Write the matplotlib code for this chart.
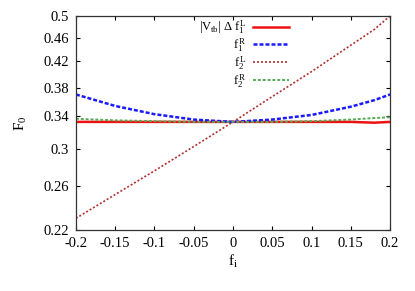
import matplotlib
matplotlib.use('Agg')
import matplotlib.pyplot as plt
from matplotlib.ticker import FixedLocator, NullLocator, FixedFormatter

plt.rcParams.update({
    'font.family': 'serif',
    'font.serif': ['Liberation Serif', 'DejaVu Serif'],
    'mathtext.fontset': 'custom',
    'mathtext.rm': 'Liberation Serif',
    'mathtext.it': 'Liberation Serif',
    'mathtext.bf': 'Liberation Serif',
    'font.size': 10.5,
    'xtick.direction': 'in',
    'ytick.direction': 'in',
    'xtick.major.size': 3,
    'ytick.major.size': 3,
})

# values
f_i = [-0.2, -0.15, -0.1, -0.05, 0.0, 0.05, 0.1, 0.15, 0.18, 0.2]
vtb_f1L = [0.333, 0.333, 0.333, 0.333, 0.333, 0.333, 0.333, 0.333, 0.332, 0.333]
f1R = [0.370, 0.354, 0.343, 0.336, 0.333, 0.336, 0.342, 0.353, 0.362, 0.370]
f2L = [0.230, 0.252, 0.276, 0.303, 0.333, 0.367, 0.404, 0.447, 0.475, 0.500]
f2R = [0.337, 0.335, 0.334, 0.333, 0.333, 0.333, 0.334, 0.336, 0.338, 0.339]

labels = [r'$|V_{tb}|\ \Delta\ f_1^L$', r'$f_1^R$', r'$f_2^L$', r'$f_2^R$']
yticks = [0.22, 0.26, 0.3, 0.34, 0.38, 0.42, 0.46, 0.5]
xticks = [-0.2, -0.15, -0.1, -0.05, 0, 0.05, 0.1, 0.15, 0.2]

fig = plt.figure(figsize=(4.15, 2.91), dpi=100)
ax = fig.add_axes([0.183, 0.21, 0.757, 0.735])

ax.plot(f_i, vtb_f1L, color='#ee1111', lw=1.8, ls='-', label=labels[0])
ax.plot(f_i, f1R, color='#1a1aff', lw=1.8, ls=(0, (1.6, 0.8)), label=labels[1])
ax.plot(f_i, f2L, color='#b03030', lw=1.2, ls=(0, (1.2, 1.2)), label=labels[2])
ax.plot(f_i, f2R, color='#55aa55', lw=1.4, ls=(0, (1.5, 1)), label=labels[3])

ax.set_yscale('log')
ax.set_xlim(-0.2, 0.2)
ax.set_ylim(0.22, 0.5)
ax.yaxis.set_major_locator(FixedLocator(yticks))
ax.yaxis.set_major_formatter(FixedFormatter([f'{v:g}' for v in yticks]))
ax.yaxis.set_minor_locator(NullLocator())
ax.set_xticks(xticks)
ax.set_xticklabels([f'{v:g}' for v in xticks])
ax.tick_params(top=True, right=True, pad=5)

for s in ax.spines.values():
    s.set_color('#333333')
    s.set_linewidth(0.9)

ax.set_xlabel(r'$f_i$', fontsize=11, labelpad=2)
ax.set_ylabel(r'$F_0$', fontsize=11, labelpad=10)

ax.legend(loc='upper left', bbox_to_anchor=(0.355, 1.04), frameon=False,
          markerfirst=False, handlelength=2.9, labelspacing=0.02,
          fontsize=9, handletextpad=0.5)

fig.savefig('out.png', dpi=100)
